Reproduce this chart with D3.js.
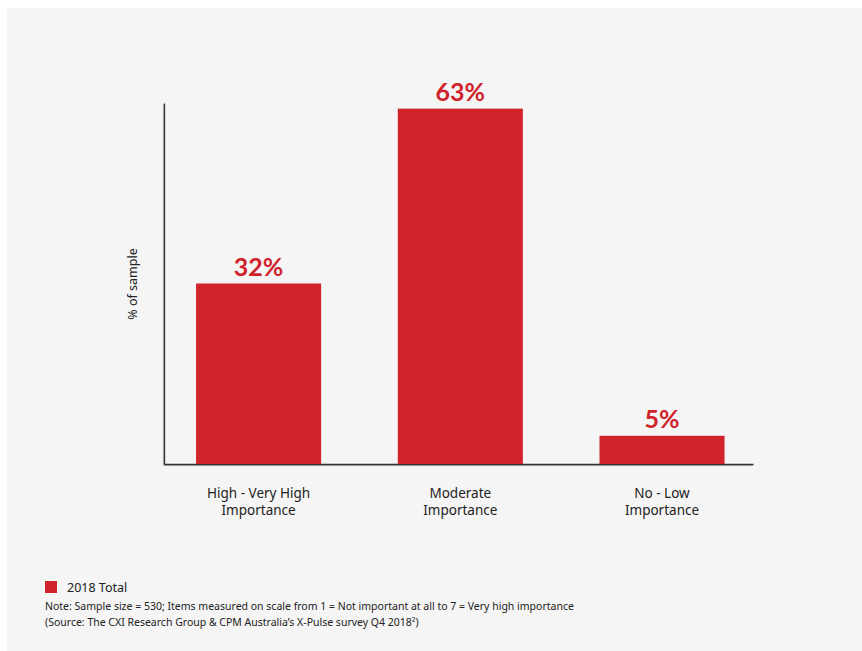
<!DOCTYPE html>
<html>
<head>
<meta charset="utf-8">
<script src="https://cdn.jsdelivr.net/npm/d3@7"></script>
<style>
  html, body { margin: 0; padding: 0; background: #ffffff; }
  svg { display: block; font-family: "Noto Sans", Lato, sans-serif; }
</style>
</head>
<body>
<svg id="chart" width="862" height="651"></svg>
<script>
// Importance ratings, share of sample (%)
const categories = [
  ["High - Very High", "Importance"],
  ["Moderate", "Importance"],
  ["No - Low", "Importance"]
];
const values = [32, 63, 5];
const seriesName = "2018 Total";
const noteLines = [
  "Note: Sample size = 530; Items measured on scale from 1 = Not important at all to 7 = Very high importance",
  "(Source: The CXI Research Group & CPM Australia\u2019s X-Pulse survey Q4 2018\u00B2)"
];
const yAxisTitle = "% of sample";

const RED = "#d0232b";
const TEXT = "#222222";

const svg = d3.select("#chart");

// panel background
svg.append("rect")
  .attr("x", 7).attr("y", 8)
  .attr("width", 862 - 7).attr("height", 651 - 8)
  .attr("fill", "#f5f5f5");

const keys = categories.map(d => d.join(" "));

const x = d3.scaleBand()
  .domain(keys)
  .range([164, 753])
  .paddingInner(0.38)
  .paddingOuter(0.15)
  .align(0.53);

const y = d3.scaleLinear()
  .domain([0, 64])
  .range([464, 103]);

// axes: a soft grey line behind the dark one
function drawAxes(g, color, width) {
  g.append("g")
    .attr("transform", `translate(${x.range()[0]},0)`)
    .call(d3.axisLeft(y).ticks(0).tickSizeOuter(0))
    .call(a => a.select(".domain").attr("stroke", color).attr("stroke-width", width));
  g.append("g")
    .attr("transform", `translate(0,${y(0)})`)
    .call(d3.axisBottom(x).tickSize(0).tickSizeOuter(0).tickFormat(""))
    .call(a => a.select(".domain").attr("stroke", color).attr("stroke-width", width));
}
drawAxes(svg.append("g").attr("transform", "translate(-1,1)"), "#b5b5b5", 1.2);
drawAxes(svg.append("g"), "#333333", 1.3);

// bars
svg.append("g").selectAll("rect")
  .data(values)
  .join("rect")
  .attr("x", (d, i) => x(keys[i]))
  .attr("y", d => y(d))
  .attr("width", x.bandwidth())
  .attr("height", d => y(0) - y(d))
  .attr("fill", RED);

// value labels
svg.append("g").selectAll("text")
  .data(values)
  .join("text")
  .attr("x", (d, i) => x(keys[i]) + x.bandwidth() / 2)
  .attr("y", d => y(d) - 8)
  .attr("text-anchor", "middle")
  .attr("fill", RED)
  .attr("font-family", "Lato, 'Noto Sans', sans-serif")
  .attr("font-size", 25)
  .attr("font-weight", 700)
  .text(d => d + "%");

// category labels, one text per line
const catLines = categories.flatMap((lines, i) =>
  lines.map((t, j) => ({ key: keys[i], line: j, text: t })));
svg.append("g").selectAll("text")
  .data(catLines)
  .join("text")
  .attr("x", d => x(d.key) + x.bandwidth() / 2)
  .attr("y", d => 498 + d.line * 16.5)
  .attr("text-anchor", "middle")
  .attr("fill", TEXT)
  .attr("font-size", 13.5)
  .text(d => d.text);

// y axis title
svg.append("text")
  .attr("transform", "translate(137,284) rotate(-90)")
  .attr("text-anchor", "middle")
  .attr("fill", TEXT)
  .attr("font-size", 12.5)
  .text(yAxisTitle);

// legend
svg.append("rect")
  .attr("x", 45).attr("y", 581)
  .attr("width", 12).attr("height", 12)
  .attr("fill", RED);
svg.append("text")
  .attr("x", 67).attr("y", 592)
  .attr("fill", TEXT)
  .attr("font-size", 12.5)
  .text(seriesName);

// notes
svg.append("g").selectAll("text")
  .data(noteLines)
  .join("text")
  .attr("x", 45)
  .attr("y", (d, i) => 610 + i * 16)
  .attr("fill", TEXT)
  .attr("font-size", 10.5)
  .text(d => d);
</script>
</body>
</html>
